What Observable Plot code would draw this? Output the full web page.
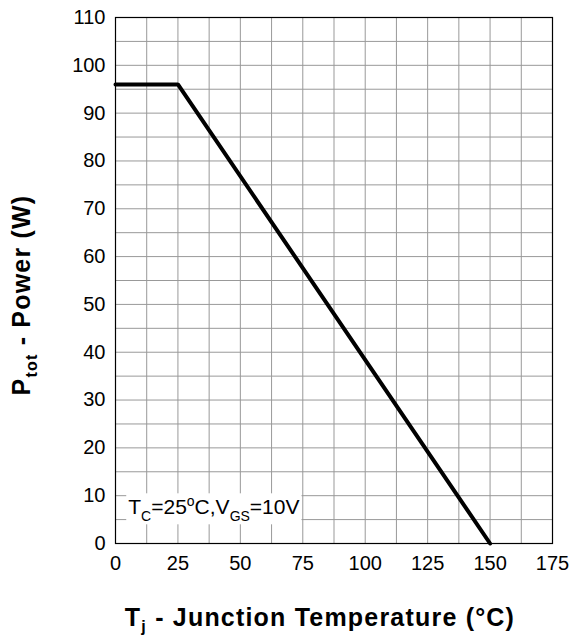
<!DOCTYPE html>
<html>
<head>
<meta charset="utf-8">
<script src="https://cdn.jsdelivr.net/npm/d3@7"></script>
<script src="https://cdn.jsdelivr.net/npm/@observablehq/plot@0.6"></script>
<style>
  html, body { margin: 0; padding: 0; background: #fff; }
</style>
</head>
<body>
<div id="chart"></div>
<script>
// Data
const temperature = [0, 25, 150];
const power = [96, 96, 0];

// Ticks and grid
const xTicks = [0, 25, 50, 75, 100, 125, 150, 175];
const xGrid = [0, 12.5, 25, 37.5, 50, 62.5, 75, 87.5, 100, 112.5, 125, 137.5, 150, 162.5, 175];
const yTicks = [0, 10, 20, 30, 40, 50, 60, 70, 80, 90, 100, 110];
const yGrid = [0, 5, 10, 15, 20, 25, 30, 35, 40, 45, 50, 55, 60, 65, 70, 75, 80, 85, 90, 95, 100, 105, 110];

// Annotation
const noteText = ["T", "C", "=25", "o", "C,V", "GS", "=10V"];
const noteAt = [5.3, 6];

const rows = temperature.map((t, i) => ({t, p: power[i]}));

const font = "'Liberation Sans', Arial, sans-serif";

const plot = Plot.plot({
  width: 574,
  height: 638,
  marginLeft: 115,
  marginRight: 22,
  marginTop: 17,
  marginBottom: 95,
  style: {fontFamily: font, fontSize: "20px", color: "#000", background: "#fff"},
  x: {domain: [0, 175], label: null},
  y: {domain: [0, 110], label: null},
  marks: [
    Plot.ruleX(xGrid, {stroke: "#999", strokeWidth: 1}),
    Plot.ruleY(yGrid, {stroke: "#999", strokeWidth: 1}),
    Plot.frame({stroke: "#000", strokeWidth: 1.2}),
    Plot.line(rows, {x: "t", y: "p", stroke: "#000", strokeWidth: 4, strokeLinejoin: "miter"}),
    Plot.axisX({ticks: xTicks, tickSize: 0, tickPadding: 12, fontSize: 20, label: null}),
    Plot.axisY({ticks: yTicks, tickSize: 0, tickPadding: 10, fontSize: 20, label: null})
  ]
});

document.getElementById("chart").appendChild(plot);

const svg = d3.select(plot);
const sx = plot.scale("x"), sy = plot.scale("y");

// Annotation with white background
const g = svg.append("g");
const txt = g.append("text")
  .attr("x", sx.apply(noteAt[0]))
  .attr("y", sy.apply(noteAt[1]))
  .attr("text-anchor", "start")
  .attr("font-family", font)
  .attr("font-size", 21)
  .attr("fill", "#000");
noteText.forEach((s, i) => {
  const ts = txt.append("tspan").text(s);
  if (i === 1 || i === 5) ts.attr("font-size", 14).attr("dy", 7);
  if (i === 2 || i === 6) ts.attr("dy", -7);
  if (i === 3) ts.attr("font-size", 14).attr("dy", -8);
  if (i === 4) ts.attr("dy", 8);
});
const bb = txt.node().getBBox();
g.insert("rect", "text")
  .attr("x", bb.x - 2).attr("y", bb.y)
  .attr("width", bb.width + 4).attr("height", bb.height)
  .attr("fill", "#fff");

// Axis titles
const xt = svg.append("text")
  .attr("x", 320).attr("y", 626)
  .attr("text-anchor", "middle")
  .attr("letter-spacing", "1.2px")
  .attr("font-family", font).attr("font-weight", "bold").attr("font-size", 25);
xt.append("tspan").text("T");
xt.append("tspan").text("j").attr("font-size", 16).attr("dy", 6);
xt.append("tspan").text(" - Junction Temperature (°C)").attr("dy", -6);

const yt = svg.append("text")
  .attr("transform", "translate(30,295) rotate(-90)")
  .attr("text-anchor", "middle")
  .attr("letter-spacing", "1.2px")
  .attr("font-family", font).attr("font-weight", "bold").attr("font-size", 25);
yt.append("tspan").text("P");
yt.append("tspan").text("tot").attr("font-size", 16).attr("dy", 7);
yt.append("tspan").text(" - Power (W)").attr("dy", -7);
</script>
</body>
</html>
